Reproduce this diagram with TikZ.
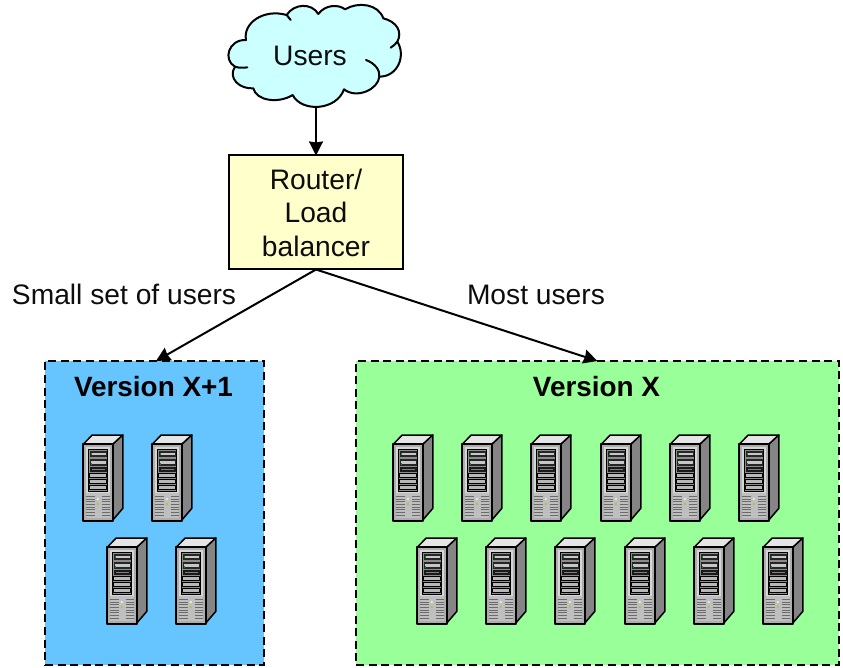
\documentclass[tikz,border=0pt]{standalone}
\usepackage{fontspec}
\setmainfont{Liberation Sans}
\usetikzlibrary{arrows.meta}
\tikzset{
  x=1pt,y=-1pt,
  lbl/.style={inner sep=0pt,outer sep=0pt,font=\fontsize{28.2}{33.5}\selectfont,text=black!95},
  ttl/.style={inner sep=0pt,outer sep=0pt,font=\fontsize{27.9}{33}\selectfont\bfseries,text=black},
  zonebox/.style={draw=black,line width=2.1pt,dash pattern=on 8pt off 4.6pt,inner sep=0pt,outer sep=0pt},
  conn/.style={draw=black,line width=2pt,-{Stealth[length=14pt,width=14pt,inset=1pt]}},
  srvline/.style={draw=black,line width=1.5pt},
  pics/server/.style={code={
    \begin{scope}[shift={(-12.5,-10)},x=.33333pt,y=-.33333pt,line join=round]
      \fill[srvline,fill=black!10] (38,58)--(65,30)--(157,30)--(127,58)--cycle;
      \fill[srvline,fill=black!48] (127,58)--(157,30)--(157,250)--(127,285)--cycle;
      \fill[srvline,fill=black!32,line width=1.9pt] (38,58) rectangle (127,287);
      \fill[black!16] (45,65) rectangle (119,205);
      \fill[black!25] (45,205) rectangle (119,280);
      \fill[black!45,draw=black,line width=1.1pt] (55,74) rectangle (111,200);
      \fill[black!85] (58,78) rectangle (108,97);
      \fill[black!22] (60,85) rectangle (106,91);
      \fill[black!85] (58,103) rectangle (108,122);
      \fill[black!22] (60,109) rectangle (106,116);
      \fill[green!60!black] (60,85) rectangle (65,89);
      \fill[green!60!black] (60,115) rectangle (65,119);
      \fill[black!90] (58,127) rectangle (108,141);
      \fill[black!50] (64,131) rectangle (102,134);
      \foreach \sy in {145,163,181}{
        \fill[black!28,draw=black,line width=.9pt] (58,\sy) rectangle (108,\sy+13);
      }
      \foreach \vy in {214,222,...,270}{
        \draw[black!58,line width=.9pt] (47,\vy)--(72,\vy) (93,\vy)--(118,\vy);
      }
      \fill[black!8] (82,222) circle (4);
      \fill[yellow!75!green!85!black] (82,237) circle (4);
    \end{scope}
  }}
}
\begin{document}
\begin{tikzpicture}
\useasboundingbox (0,0) rectangle (843,668);
% zones
\node[zonebox,fill={rgb,255:red,102;green,196;blue,255},minimum width=219pt,minimum height=304pt] (blue) at (154.5,513) {};
\node[zonebox,fill={rgb,255:red,153;green,255;blue,153},minimum width=483pt,minimum height=304pt] (green) at (597.5,513) {};
% cloud
\begin{scope}[shift={(220,0)},x=.33333pt,y=-.33333pt]
  \filldraw[draw=black,line width=2pt,fill={rgb,255:red,204;green,255;blue,255},line join=round]
    (78,120) .. controls (68,70) and (130,25) .. (200,45)
    .. controls (222,10) and (275,8) .. (295,42)
    .. controls (315,14) and (355,12) .. (375,28)
    .. controls (415,4) and (475,12) .. (490,55)
    .. controls (530,65) and (548,95) .. (532,125)
    .. controls (558,165) and (535,230) .. (478,230)
    .. controls (475,268) and (410,298) .. (372,268)
    .. controls (350,332) and (245,338) .. (218,285)
    .. controls (175,312) and (108,302) .. (100,265)
    .. controls (60,268) and (22,235) .. (45,200)
    .. controls (8,180) and (25,118) .. (78,120) -- cycle;
  \draw[black,line width=2pt,line cap=round]
    (200,45) .. controls (204,50) and (208,55) .. (212,60)
    (532,125) .. controls (527,132) and (520,138) .. (512,143)
    (478,230) .. controls (480,210) and (465,190) .. (438,180)
    (45,200) .. controls (55,204) and (70,204) .. (82,202);
\end{scope}
\node[lbl,align=center] (users) at (310,55.5) {Users};
\coordinate (cloudfoot) at (316,107);
% router
\node[draw=black,line width=2pt,fill={rgb,255:red,255;green,255;blue,204},minimum width=174pt,minimum height=114pt,inner sep=0pt,outer sep=0pt,lbl,align=center] (router) at (316,212.5) {Router/\\Load\\balancer};
% connectors
\draw[conn] (cloudfoot) -- (router.north);
\draw[conn] (router.south) -- ([xshift=1.5pt]blue.north);
\draw[conn] (router.south) -- (green.north);
% labels
\node[lbl,anchor=west] (small) at (12,294) {Small set of users};
\node[lbl,anchor=west] (most) at (467,294.5) {Most users};
\node[ttl] (tblue) at (153.5,387) {Version X+1};
\node[ttl] (tgreen) at (596.5,387) {Version X};
% servers
\foreach \sx/\sy in {83/435,152/435,107/538,176/538,
  393/435,462/435,531/435,601/435,670/435,739/435,
  417/538,486/538,555/538,625/538,694/538,763/538}{
  \pic at (\sx,\sy) {server};
}
\end{tikzpicture}
\end{document}
